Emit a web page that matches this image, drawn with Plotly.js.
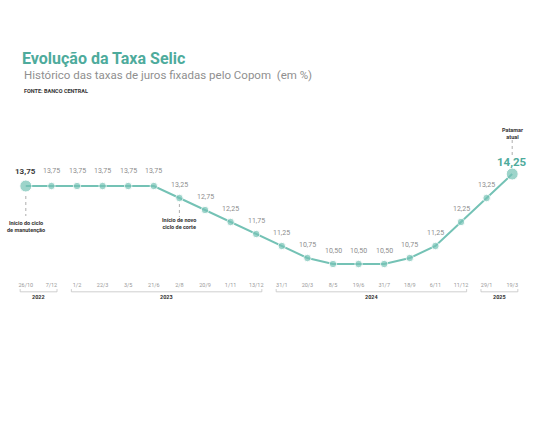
<!DOCTYPE html>
<html>
<head>
<meta charset="utf-8">
<script src="https://cdn.plot.ly/plotly-3.0.1.min.js"></script>
<style>html,body{margin:0;padding:0;background:#fff;}#chart{width:536px;height:430px;}</style>
</head>
<body>
<div id="chart"></div>
<script>
// Copom meeting dates and Selic target (% a.a.)
const dates = ['26/10','7/12','1/2','22/3','3/5','21/6','2/8','20/9','1/11','13/12',
               '31/1','20/3','8/5','19/6','31/7','18/9','6/11','11/12','29/1','19/3'];
const years = [2022,2022,2023,2023,2023,2023,2023,2023,2023,2023,
               2024,2024,2024,2024,2024,2024,2024,2024,2025,2025];
const selic = [13.75,13.75,13.75,13.75,13.75,13.75,13.25,12.75,12.25,11.75,
               11.25,10.75,10.50,10.50,10.50,10.75,11.25,12.25,13.25,14.25];

const TEAL = '#74c2b5';
const TEAL_DARK = '#4eab9c';
const FONT = 'Roboto, "Liberation Sans", sans-serif';
const last = selic.length - 1;
const fmt = v => v.toFixed(2).replace('.', ',');

const trace = {
  x: dates, y: selic, type: 'scatter', mode: 'lines+markers',
  line: {color: TEAL, width: 2},
  marker: {color: TEAL, size: selic.map((v, i) => (i === 0 || i === last) ? 12 : 7.5)},
  hoverinfo: 'skip', cliponaxis: false
};

const annotations = [];
selic.forEach((v, i) => {
  let a = {x: dates[i], y: v, xref: 'x', yref: 'y', showarrow: false,
           text: fmt(v), yshift: 13, font: {family: FONT, size: 7, color: '#8d8d8d'}};
  if (v === 13.75) a.yshift = 15;
  if (i === 0) { a.text = '<b>' + fmt(v) + '</b>'; a.font = {family: FONT, size: 8, color: '#3a3a3a'}; }
  if (i === last) { a.text = '<b>' + fmt(v) + '</b>'; a.yshift = 12; a.font = {family: FONT, size: 11.5, color: TEAL_DARK}; }
  annotations.push(a);
});

const noteFont = {family: FONT, size: 5.5, color: '#333'};
const leftX = (22 - 13) / 512;
annotations.push(
  {x: dates[0], y: selic[0], showarrow: false, yshift: -40, text: '<b>Início do ciclo<br>de manutenção</b>', font: noteFont},
  {x: dates[6], y: selic[6], showarrow: false, yshift: -25, text: '<b>Início de novo<br>ciclo de corte</b>', font: noteFont},
  {x: dates[last], y: selic[last], showarrow: false, yshift: 41, text: '<b>Patamar<br>atual</b>', font: noteFont},
  {xref: 'paper', yref: 'paper', x: leftX, y: 1.0, xanchor: 'left', yanchor: 'middle', showarrow: false,
   text: 'Histórico das taxas de juros fixadas pelo Copom  (em %)',
   font: {family: FONT, size: 11.5, color: '#8f8f8f'}, yshift: 65},
  {xref: 'paper', yref: 'paper', x: leftX, y: 1.0, xanchor: 'left', yanchor: 'middle', showarrow: false,
   text: '<b>FONTE: BANCO CENTRAL</b>', font: {family: FONT, size: 5.5, color: '#333'}, yshift: 49}
);

const shapes = [];
// dotted leader lines
[[0, -10, -30], [6, -6, -19], [last, 19, 35]].forEach(([i, a, b]) => {
  shapes.push({type: 'line', xref: 'x', yref: 'y', ysizemode: 'pixel', yanchor: selic[i],
               x0: i, x1: i, y0: a, y1: b, line: {color: '#999', width: 0.8, dash: 'dot'}});
});
// year brackets
const yearList = [...new Set(years)];
yearList.forEach(yr => {
  const s = years.indexOf(yr), e = years.lastIndexOf(yr);
  const x0 = s - 0.22, x1 = e + 0.22;
  const yb = -0.1, yt = -0.08;
  const ln = {color: '#c4c4c4', width: 0.8};
  shapes.push({type: 'line', xref: 'x', yref: 'paper', x0: x0, x1: x1, y0: yb, y1: yb, line: ln});
  shapes.push({type: 'line', xref: 'x', yref: 'paper', x0: x0, x1: x0, y0: yb, y1: yt, line: ln});
  shapes.push({type: 'line', xref: 'x', yref: 'paper', x0: x1, x1: x1, y0: yb, y1: yt, line: ln});
  annotations.push({xref: 'x', yref: 'paper', x: (s + e) / 2, y: -0.138, yanchor: 'middle', showarrow: false,
    text: '<b>' + yr + '</b>', font: {family: FONT, size: 5.5, color: '#333'}});
});

const layout = {
  width: 536, height: 430,
  margin: {l: 13, r: 11, t: 140, b: 152},
  paper_bgcolor: '#fff', plot_bgcolor: '#fff',
  showlegend: false,
  title: {text: '<b>Evolução da Taxa Selic</b>', x: 22 / 536, xanchor: 'left', xref: 'container',
          y: 1 - 58 / 430, yanchor: 'middle', yref: 'container',
          font: {family: FONT, size: 16, color: TEAL_DARK}},
  xaxis: {type: 'category', range: [-0.5, dates.length - 0.5], showgrid: false, zeroline: false,
          showline: false, ticks: '', ticklabelstandoff: 2,
          tickfont: {family: FONT, size: 5.5, color: '#9a9a9a'}, fixedrange: true},
  yaxis: {range: [9.917, 15.667], visible: false, fixedrange: true},
  annotations: annotations,
  shapes: shapes
};

Plotly.newPlot('chart', [trace], layout, {displayModeBar: false, staticPlot: true});
</script>
</body>
</html>
